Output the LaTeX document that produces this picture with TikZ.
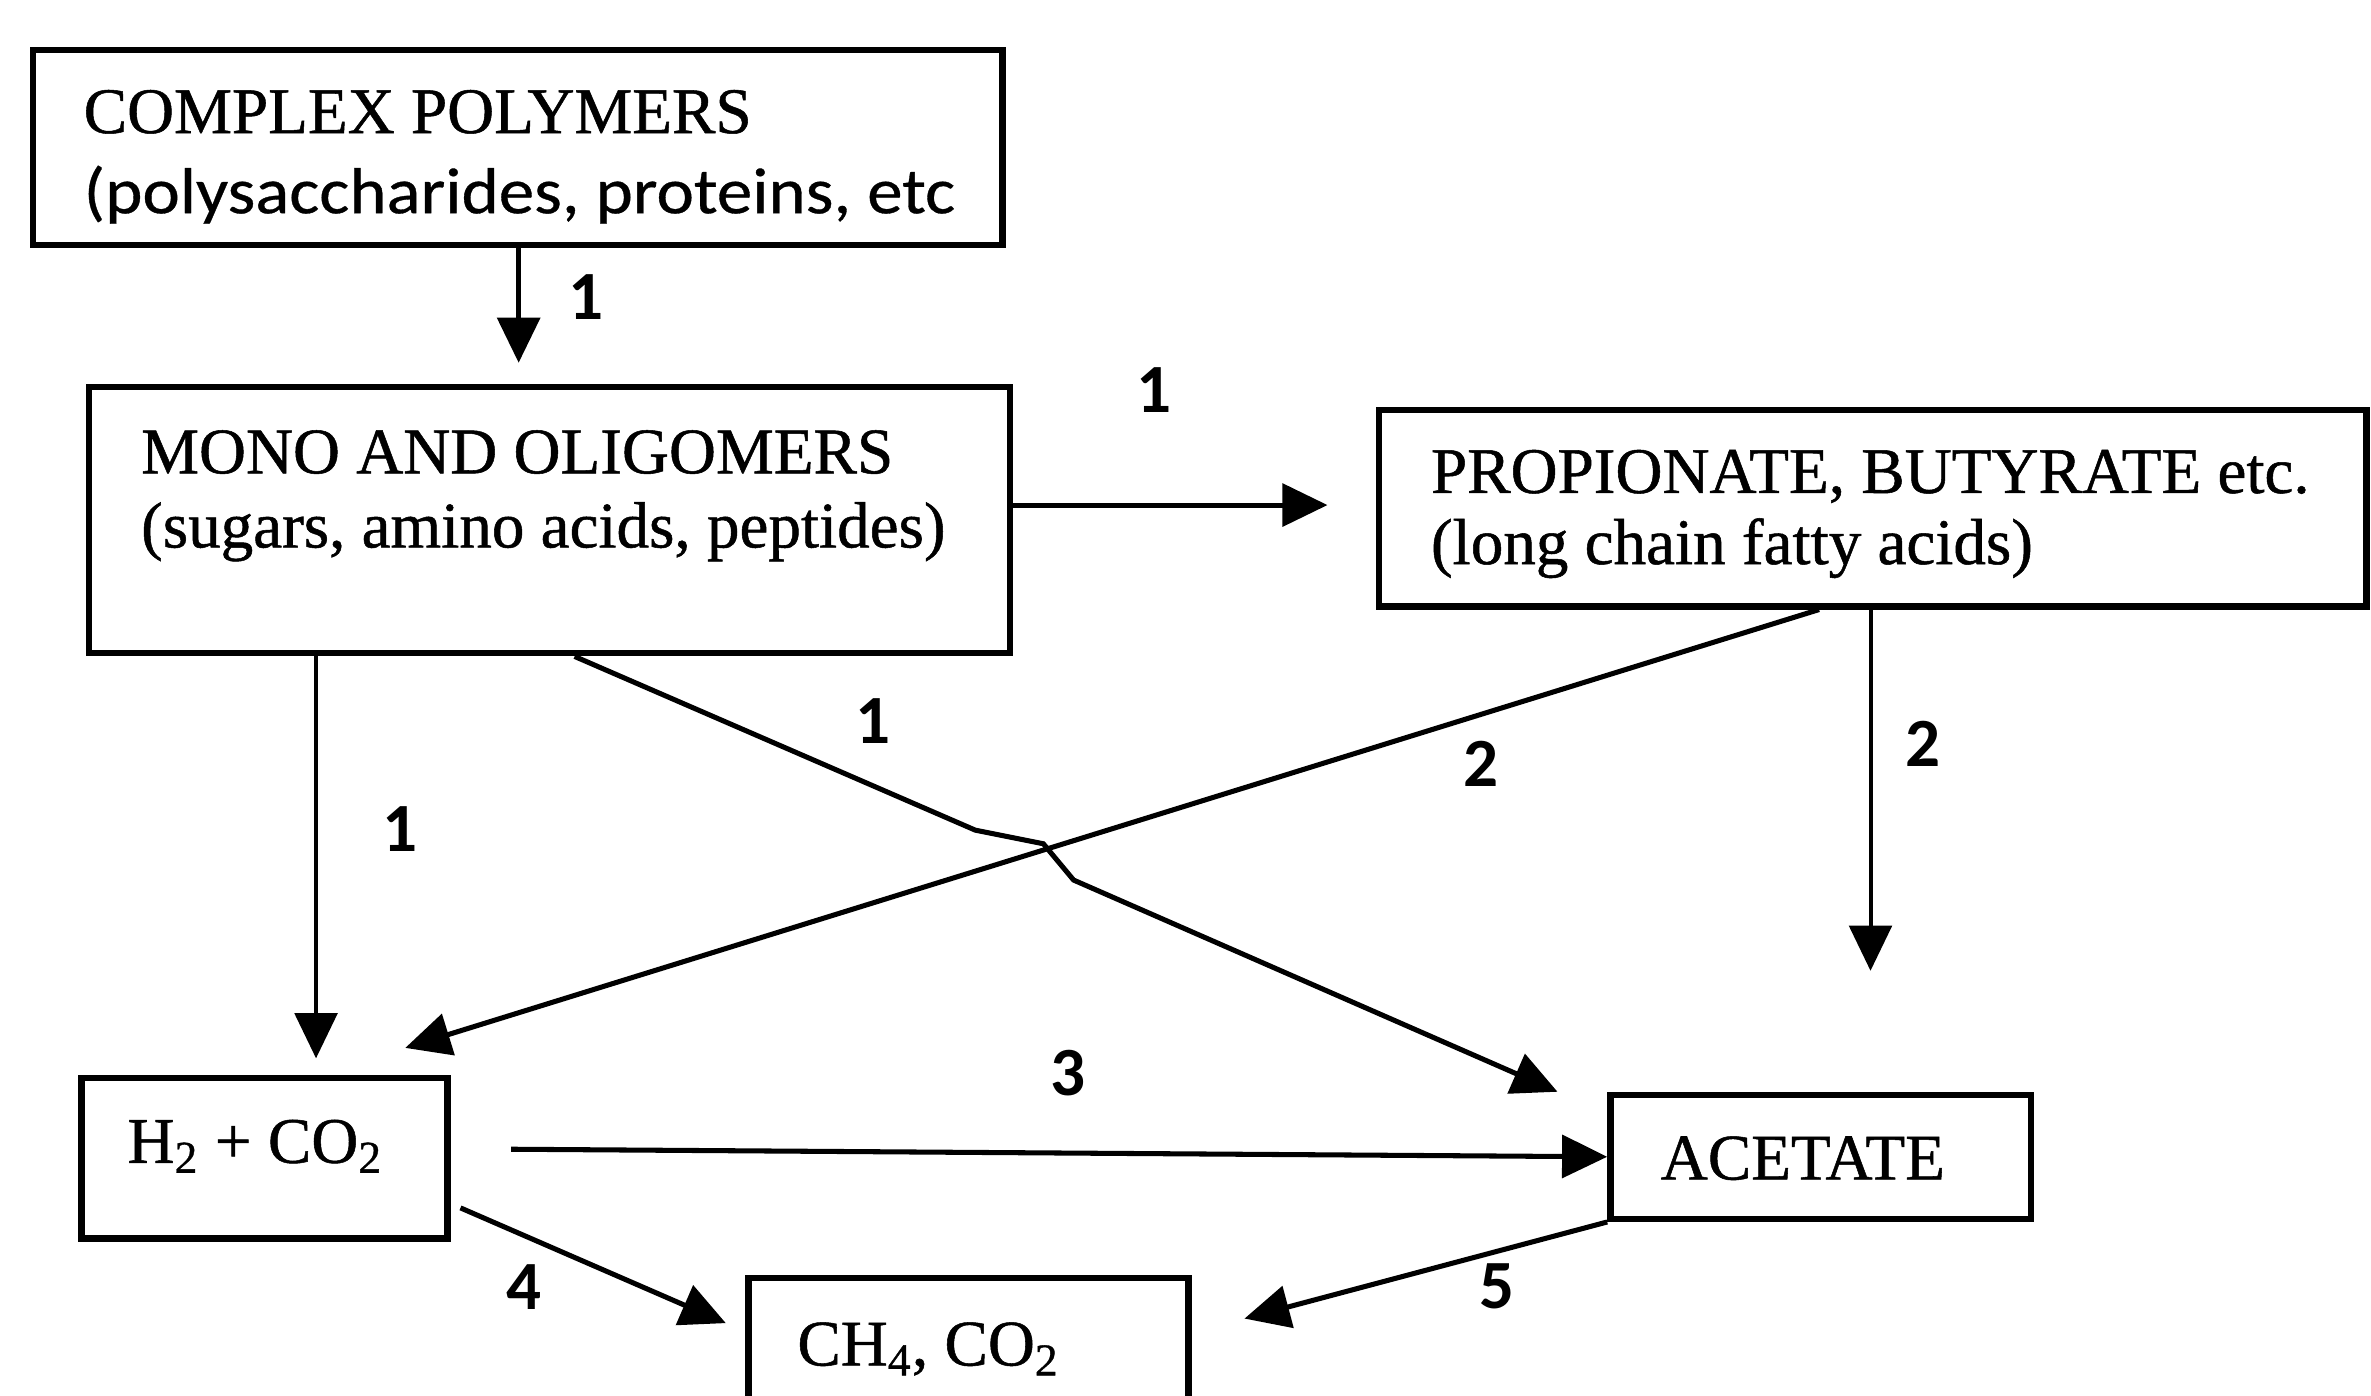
\documentclass[tikz,border=0pt]{standalone}
\usepackage{fontspec}
\setmainfont[FakeBold=0.8]{Liberation Serif}
\newfontfamily\calib[FakeBold=0.5]{Carlito}
\newfontfamily\calibnum{Carlito}
\usetikzlibrary{arrows.meta,fit}
\begin{document}
\begin{tikzpicture}[x=0.02cm,y=-0.02cm,
  boxstyle/.style={draw,line width=2.4pt,inner sep=0pt,rectangle},
  txt/.style={anchor=base west,inner sep=0pt,font=\fontsize{24.5}{28}\selectfont},
  num/.style={inner sep=0pt,font=\calibnum\bfseries\fontsize{26}{30}\selectfont},
  conn/.style={line width=1.9pt,-{Triangle[length=17pt,width=16pt]}},
  thinconn/.style={line width=1.5pt,-{Triangle[length=17pt,width=16pt]}},
]
\useasboundingbox (0,0) rectangle (1568,923);
\clip (0,0) rectangle (1568,923);
% boxes
\node[boxstyle,fit={(22,33) (663,162)}] (A) {};
\node[boxstyle,fit={(59,256) (668,432)}] (B) {};
\node[boxstyle,fit={(912,271) (1565,401)}] (C) {};
\node[boxstyle,fit={(54,713) (296,819)}] (D) {};
\node[boxstyle,fit={(1065,724) (1343,806)}] (E) {};
\node[boxstyle,fit={(495,845) (786,960)}] (F) {};
% texts
\node[txt] (A1) at (55,88) {COMPLEX POLYMERS};
\node[txt,font=\calib\fontsize{24.5}{28}\selectfont] (A2) at (55,141) {\scalebox{1.09}[1]{(polysaccharides, proteins, etc}};
\node[txt] (B1) at (93,313) {MONO AND OLIGOMERS};
\node[txt] (B2) at (93,362) {(sugars, amino acids, peptides)};
\node[txt] (C1) at (946,326) {PROPIONATE, BUTYRATE etc.};
\node[txt] (C2) at (946,373) {(long chain fatty acids)};
\node[txt] (D1) at (84,769) {H\textsubscript{2} + CO\textsubscript{2}};
\node[txt] (E1) at (1098,780) {ACETATE};
\node[txt] (F1) at (527,903) {CH\textsubscript{4}, CO\textsubscript{2}};
% free ends
\coordinate (tE) at (1030,722);
\coordinate (tD) at (268,693);
\coordinate (tC) at (1237,642);
\coordinate (sD) at (338,760);
\coordinate (t4) at (480,875);
\coordinate (t5) at (823,872);
% connectors
\draw[conn,shorten >=0.28cm] (343,0 |- A.south) -- (343,0 |- B.north);
\draw[conn,shorten >=0.64cm] (B.east |- 0,334) -- (C.west |- 0,334);
\draw[thinconn,shorten >=0.22cm] (209,0 |- B.south) -- (209,0 |- D.north);
\draw[conn] (380,0 |- B.south) -- (645,549) -- (690,558) -- (710,582) -- (tE);
\draw[conn] (1203,0 |- C.south) -- (tD);
\draw[thinconn] (1237,0 |- C.south) -- (tC);
\draw[conn] (sD) -- (E.west);
\draw[conn,shorten <=0.14cm] (D.east |- 0,796) -- (t4);
\draw[conn] (E.south west) -- (t5);
% labels
\node[num] (l1) at (387.5,196.7) {1};
\node[num] (l2) at (763,258) {1};
\node[num] (l3) at (264.5,548) {1};
\node[num] (l4) at (577.6,476.8) {1};
\node[num] (l5) at (979.6,505.4) {2};
\node[num] (l6) at (1271.6,491.6) {2};
\node[num] (l7) at (706.5,709.8) {3};
\node[num] (l8) at (346.5,851) {4};
\node[num] (l9) at (989.8,851) {5};
\end{tikzpicture}
\end{document}
